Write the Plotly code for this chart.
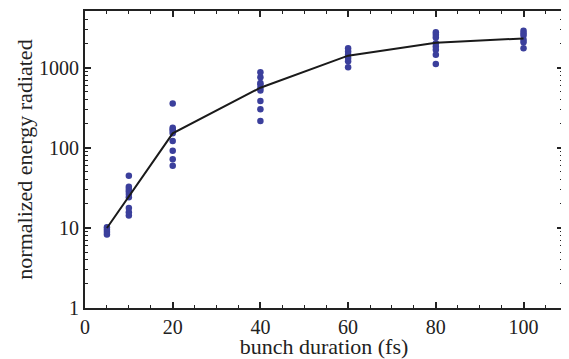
import plotly.graph_objects as go

# scatter data: bunch duration (fs) and normalized energy radiated
x5 = [5, 5, 5, 5]
y5 = [10.2, 9.5, 8.9, 8.3]
x10 = [10] * 9
y10 = [44.9, 32.8, 30.7, 28.7, 26.6, 24.1, 17.8, 15.7, 14.3]
x20 = [20] * 9
y20 = [359, 179, 171, 163, 152, 122, 92, 72, 60]
x40 = [40] * 9
y40 = [879, 762, 647, 619, 561, 521, 384, 303, 216]
x60 = [60] * 6
y60 = [1762, 1603, 1459, 1325, 1205, 1014]
x80 = [80] * 8
y80 = [2786, 2582, 2393, 2033, 1849, 1683, 1459, 1115]
x100 = [100] * 6
y100 = [2898, 2710, 2535, 2240, 2094, 1762]

# mean curve
line_x = [5, 10, 20, 40, 60, 80, 100]
line_y = [10, 25, 152, 565, 1420, 2060, 2330]

x_ticks = [0, 20, 40, 60, 80, 100]
y_ticks = [1, 10, 100, 1000]
y_minor = [m * d for d in (1, 10, 100, 1000) for m in range(2, 10)]

pts_x = x5 + x10 + x20 + x40 + x60 + x80 + x100
pts_y = y5 + y10 + y20 + y40 + y60 + y80 + y100

fig = go.Figure()
fig.add_trace(go.Scatter(x=pts_x, y=pts_y, mode="markers",
                         marker=dict(color="#3b3f9c", size=6.5, line=dict(width=0)),
                         showlegend=False))
fig.add_trace(go.Scatter(x=line_x, y=line_y, mode="lines",
                         line=dict(color="#1a1a1a", width=2), showlegend=False))

serif = "Liberation Serif, Times New Roman, serif"
tick_font = dict(family=serif, size=20, color="#222")
title_font = dict(family=serif, size=22, color="#222")
axis_common = dict(showline=True, linecolor="#222", linewidth=2, mirror="allticks",
                   ticks="inside", ticklen=6, tickwidth=1.5, tickcolor="#222",
                   showgrid=False, zeroline=False, tickfont=tick_font)

fig.update_xaxes(range=[0, 109], tickvals=x_ticks,
                 title=dict(text="bunch duration (fs)", font=title_font, standoff=0),
                 minor=dict(ticks="inside", ticklen=3, tickwidth=1.2, dtick=5, tickcolor="#222"),
                 **axis_common)
fig.update_yaxes(type="log", range=[0, 3.71], tickvals=y_ticks, ticktext=[str(v) for v in y_ticks],
                 title=dict(text="normalized energy radiated", font=title_font, standoff=0),
                 minor=dict(ticks="inside", ticklen=3, tickwidth=1.2, tickvals=y_minor, tickcolor="#222"),
                 **axis_common)

# the page body adds an 8px offset, so the figure is sized 8px smaller
fig.update_layout(width=561, height=351, margin=dict(l=77, r=6, t=1, b=51),
                  plot_bgcolor="white", paper_bgcolor="white", font=tick_font)
fig.write_html("out.html")
